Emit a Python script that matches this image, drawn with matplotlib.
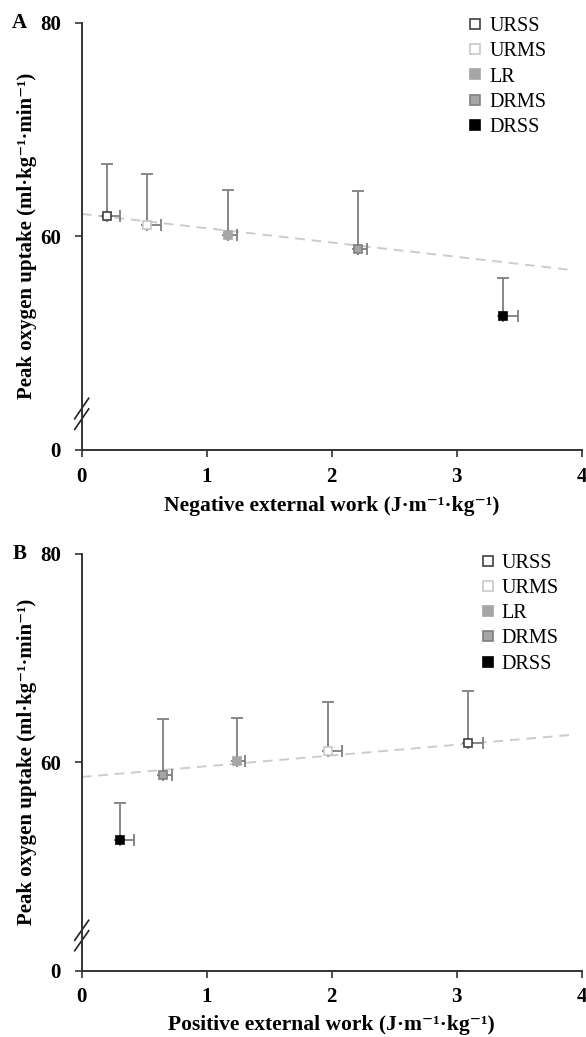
import matplotlib
matplotlib.use("Agg")
import matplotlib.pyplot as plt
import numpy as np

plt.rcParams['font.family'] = ['Liberation Serif', 'DejaVu Serif']

groups = ["URSS", "URMS", "LR", "DRMS", "DRSS"]
vo2_mean = [61.9, 61.1, 60.1, 58.8, 52.5]
vo2_sd = [4.9, 4.7, 4.2, 5.4, 3.6]

neg_work = [0.20, 0.52, 1.17, 2.21, 3.37]
neg_work_sd = [0.11, 0.115, 0.072, 0.07, 0.12]
pos_work = [3.09, 1.97, 1.24, 0.65, 0.31]
pos_work_sd = [0.12, 0.115, 0.07, 0.075, 0.11]

trend_a = (62.1, -1.34)   # intercept, slope
trend_b = (58.6, 1.03)

y_ticks = [40, 60, 80]
y_ticklabels = ["0", "60", "80"]
x_ticks = [0, 1, 2, 3, 4]

face = ["white", "white", "#a6a6a6", "#a6a6a6", "black"]
edge = ["#404040", "#c8c8c8", "#a6a6a6", "#808080", "black"]

fig = plt.figure(figsize=(5.86, 10.37), dpi=100)
axA = fig.add_axes([0.1394, 0.5661, 0.8533, 0.4120])
axB = fig.add_axes([0.1394, 0.0639, 0.8533, 0.4019])

def draw(ax, xs, xsd, trend, xlabel, letter, leg_anchor):
    tx = np.array([0, 3.9])
    ax.plot(tx, trend[0] + trend[1] * tx, color="#cccccc", lw=1.4,
            dashes=(5, 3.5), zorder=1)
    n = len(groups)
    for i in range(n):
        ax.errorbar([xs[i]], [vo2_mean[i]],
                    xerr=[[0], [xsd[i]]], yerr=[[0], [vo2_sd[i]]],
                    fmt='none', ecolor="#7f7f7f", elinewidth=1.3,
                    capsize=4, capthick=1.3, zorder=2)
        ax.plot(xs[i], vo2_mean[i], ls='none', marker='s', ms=6,
                mfc=face[i], mec=edge[i], mew=1.2, zorder=3,
                label=groups[i])
    ax.set_xlim(0, 4)
    ax.set_ylim(40, 80)
    ax.set_xticks(x_ticks)
    ax.set_yticks(y_ticks)
    ax.set_yticklabels(y_ticklabels)
    for s in ["top", "right"]:
        ax.spines[s].set_visible(False)
    for s in ["left", "bottom"]:
        ax.spines[s].set_linewidth(1.4)
        ax.spines[s].set_color("#333333")
    ax.tick_params(axis='both', direction='out', length=5, width=1.2,
                   color="#333333", labelsize=15)
    ax.tick_params(axis='x', pad=7)
    ax.tick_params(axis='y', pad=10)
    for lab in ax.get_xticklabels() + ax.get_yticklabels():
        lab.set_fontweight('bold')
    ax.set_xlabel(xlabel, fontsize=15.5, fontweight='bold')
    ax.xaxis.set_label_coords(0.5, -0.107)
    ax.set_ylabel("Peak oxygen uptake (ml·kg⁻¹·min⁻¹)",
                  fontsize=15, fontweight='bold')
    ax.yaxis.set_label_coords(-0.089, 0.5)
    # axis break marks
    for yc in (0.072, 0.097):
        ax.plot([-0.014, 0.014], [yc - 0.024, yc + 0.024], color="#222222",
                lw=1.2, transform=ax.transAxes, clip_on=False)
    ax.text(-0.139, 1.0, letter, transform=ax.transAxes, fontsize=15,
            fontweight='bold', va='center', ha='left')
    ax.legend(loc='upper left', bbox_to_anchor=leg_anchor,
              frameon=False, fontsize=14.5, handlelength=0.6,
              handletextpad=0.4, labelspacing=0.3, borderpad=0.0,
              borderaxespad=0.0, markerscale=1.1)

draw(axA, neg_work, neg_work_sd, trend_a,
     "Negative external work (J·m⁻¹·kg⁻¹)", "A", (0.775, 1.013))
draw(axB, pos_work, pos_work_sd, trend_b,
     "Positive external work (J·m⁻¹·kg⁻¹)", "B", (0.80, 1.0))

fig.savefig("out.png", dpi=100)
